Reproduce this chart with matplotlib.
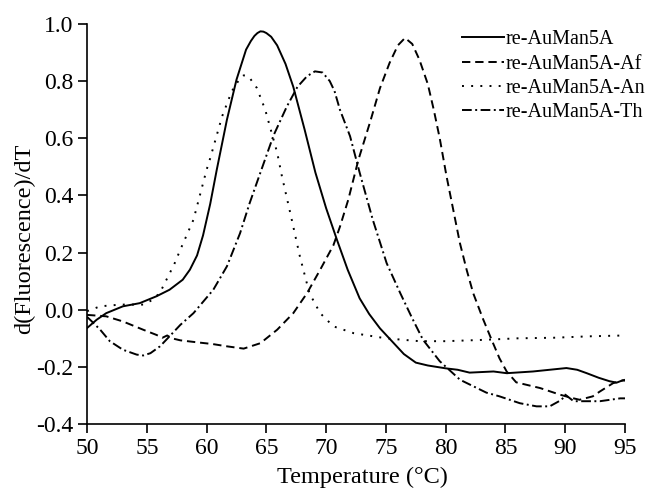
import numpy as np
import matplotlib.pyplot as plt

plt.rcParams['font.family'] = ['Liberation Serif', 'DejaVu Serif']
plt.rcParams['lines.scale_dashes'] = False

# re-AuMan5A (solid)
t_wt = [50, 50.8, 51.6, 53.0, 54.4, 55.8, 56.9, 58.0, 58.6, 59.2, 59.7, 60.3, 60.85,
        61.7, 62.5, 63.3, 63.7, 64.0, 64.25, 64.5, 64.75, 65.0, 65.4, 65.9, 66.6,
        67.25, 68.2, 69.1, 70.0, 70.9, 71.8, 72.8, 73.6, 74.5, 75.5, 76.5, 77.5,
        78.5, 80.0, 81.0, 82.0, 84.0, 85.1, 87.3, 88.7, 90.1, 91.0, 91.8, 92.8,
        93.7, 94.3, 94.8, 95.0]
d_wt = [-0.064, -0.035, -0.012, 0.012, 0.023, 0.047, 0.07, 0.105, 0.14, 0.19, 0.26,
        0.37, 0.49, 0.665, 0.805, 0.91, 0.94, 0.958, 0.968, 0.974, 0.973, 0.968,
        0.955, 0.925, 0.86, 0.78, 0.63, 0.48, 0.355, 0.245, 0.14, 0.04, -0.015,
        -0.065, -0.11, -0.155, -0.185, -0.195, -0.205, -0.21, -0.22, -0.216,
        -0.222, -0.216, -0.21, -0.204, -0.21, -0.222, -0.238, -0.25, -0.255,
        -0.247, -0.248]

# re-AuMan5A-Af (dashed)
t_af = [50, 51.6, 53.0, 54.7, 55.8, 56.3, 56.7, 57.1, 57.8, 59.2, 60.5, 61.7, 63.1,
        64.5, 65.9, 67.25, 68.4, 69.5, 70.6, 71.15, 71.85, 72.7, 73.7, 74.5, 75.3,
        76.0, 76.6, 77.2, 77.8, 78.5, 79.0, 79.5, 80.07, 80.63, 81.19, 81.75, 82.3,
        83.1, 83.84, 84.5, 85.1, 85.9, 87.9, 89.55, 90.4, 91.2, 92.3, 92.9, 94.0,
        94.6, 95.0]
d_af = [-0.018, -0.023, -0.041, -0.07, -0.088, -0.098, -0.09, -0.1, -0.107, -0.114,
        -0.12, -0.128, -0.136, -0.117, -0.07, -0.012, 0.058, 0.14, 0.225, 0.29,
        0.385, 0.525, 0.66, 0.775, 0.863, 0.925, 0.951, 0.93, 0.875, 0.79, 0.70,
        0.60, 0.467, 0.35, 0.233, 0.14, 0.058, -0.03, -0.105, -0.17, -0.216,
        -0.254, -0.274, -0.297, -0.307, -0.315, -0.303, -0.286, -0.257, -0.25,
        -0.245]

# re-AuMan5A-An (dotted)
t_an = [50, 51.1, 52.8, 54.7, 55.5, 56.1, 56.7, 57.3, 57.8, 58.9, 60.0, 60.3, 61.3,
        62.1, 62.8, 63.1, 63.5, 64.2, 64.9, 65.9, 66.3, 67.0, 67.8, 68.6, 69.5,
        70.6, 72.3, 75.0, 77.8, 80.0, 83.4, 86.0, 89.0, 92.0, 95.0]
d_an = [-0.005, 0.012, 0.018, 0.018, 0.035, 0.06, 0.11, 0.16, 0.21, 0.315, 0.49,
        0.53, 0.677, 0.764, 0.81, 0.82, 0.817, 0.776, 0.70, 0.55, 0.467, 0.338,
        0.187, 0.058, -0.012, -0.058, -0.082, -0.10, -0.11, -0.11, -0.105, -0.10,
        -0.098, -0.093, -0.09]

# re-AuMan5A-Th (dash-dot)
t_th = [50, 50.5, 51.1, 51.9, 53.0, 54.15, 54.7, 55.3, 56.1, 56.9, 57.8, 58.9, 60.56,
        61.7, 62.8, 63.6, 64.5, 65.6, 66.7, 67.6, 68.4, 69.06, 69.7, 70.3, 70.7,
        71.15, 72.0, 72.8, 73.9, 75.06, 76.2, 77.2, 78.1, 79.5, 81.2, 83.4, 84.5,
        86.2, 87.6, 88.7, 89.7, 90.0, 90.7, 91.8, 92.9, 94.6, 95.0]
d_th = [-0.025, -0.045, -0.07, -0.11, -0.14, -0.157, -0.16, -0.152, -0.128, -0.093,
        -0.053, -0.012, 0.07, 0.152, 0.268, 0.373, 0.48, 0.61, 0.71, 0.78, 0.817,
        0.834, 0.83, 0.80, 0.765, 0.70, 0.607, 0.48, 0.315, 0.163, 0.058, -0.03,
        -0.105, -0.18, -0.245, -0.29, -0.303, -0.327, -0.338, -0.338, -0.315,
        -0.297, -0.32, -0.32, -0.32, -0.31, -0.31]

labels = ['re-AuMan5A', 're-AuMan5A-Af', 're-AuMan5A-An', 're-AuMan5A-Th']

fig = plt.figure(figsize=(6.45, 4.88), dpi=100)
ax = fig.add_axes([0.135, 0.131, 0.834, 0.820])

lw = 1.4
ax.plot(t_wt, d_wt, color='black', lw=lw, linestyle='-', label=labels[0])
ax.plot(t_af, d_af, color='black', lw=lw, linestyle=(0, (6, 3.5)), label=labels[1])
ax.plot(t_an, d_an, color='black', lw=lw, linestyle=(0, (1.4, 5.2)), label=labels[2])
ax.plot(t_th, d_th, color='black', lw=lw, linestyle=(0, (7, 2.5, 1.4, 2.5)), label=labels[3])

ax.set_xlim(50, 95)
ax.set_ylim(-0.4, 1.0)
ax.set_xticks(np.arange(50, 96, 5))
yt = np.arange(-0.4, 1.01, 0.2)
ax.set_yticks(yt)
ax.set_yticklabels(['%.1f' % v for v in yt])
ax.spines['top'].set_visible(False)
ax.spines['right'].set_visible(False)
for s in ('left', 'bottom'):
    ax.spines[s].set_linewidth(1.2)
ax.tick_params(direction='out', length=6.5, width=1.2, labelsize=17, pad=3.5)

ax.set_xlabel('Temperature (°C)', fontsize=17.5)
ax.set_ylabel('d(Fluorescence)/dT', fontsize=17.5)
ax.xaxis.set_label_coords(0.511, -0.107)
ax.yaxis.set_label_coords(-0.097, 0.4625)

fig.legend(loc='upper left', bbox_to_anchor=(0.716, 0.938), frameon=False,
           fontsize=14.5, handlelength=2.07, handletextpad=0.1, labelspacing=0.26,
           borderpad=0, borderaxespad=0)

fig.savefig('out.png', dpi=100)
